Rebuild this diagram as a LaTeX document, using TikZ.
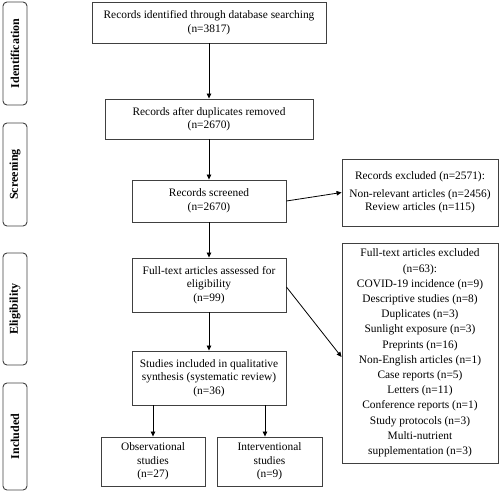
\documentclass[tikz,border=0pt]{standalone}
\usepackage{fontspec}
\setmainfont{Liberation Serif}
\usetikzlibrary{arrows.meta}
\begin{document}
\begin{tikzpicture}[x=1pt,y=-1pt,
  box/.style={draw=black!75,line width=0.9pt,align=center,inner sep=2pt,
    font=\fontsize{11.4}{13.6}\selectfont},
  side/.style={draw=black!75,line width=0.9pt,rounded corners=4pt,minimum width=24pt,
    inner sep=1pt,font=\bfseries\fontsize{12}{13}\selectfont},
  arr/.style={-{Triangle[length=5pt,width=4.5pt]},line width=0.8pt}]
\useasboundingbox (0,0) rectangle (500,493);
% phase labels
\node[side,minimum height=103pt] (s1) at (15,53.5) {\rotatebox{90}{Identification}};
\node[side,minimum height=103pt] (s2) at (15,174.5) {\rotatebox{90}{Screening}};
\node[side,minimum height=112pt] (s3) at (15,309) {\rotatebox{90}{Eligibility}};
\node[side,minimum height=107pt] (s4) at (15,436.5) {\rotatebox{90}{Included}};
% main boxes
\node[box,minimum width=234pt,minimum height=41pt] (b1) at (209,22.5)
  {Records identified through database searching\\(n=3817)};
\node[box,minimum width=208pt,minimum height=40pt] (b2) at (209,119)
  {Records after duplicates removed\\(n=2670)};
\node[box,minimum width=154pt,minimum height=42pt] (b3) at (209,201)
  {Records screened\\(n=2670)};
\node[box,minimum width=154pt,minimum height=54pt] (b4) at (209,285)
  {Full-text articles assessed for\\eligibility\\(n=99)};
\node[box,minimum width=154pt,minimum height=54pt] (b5) at (209,378)
  {Studies included in qualitative\\synthesis (systematic review)\\(n=36)};
\node[box,minimum width=104pt,minimum height=49pt] (b6) at (153,461.5)
  {Observational\\studies\\(n=27)};
\node[box,minimum width=105pt,minimum height=49pt] (b7) at (269.5,461.5)
  {Interventional\\studies\\(n=9)};
\node[box,minimum width=156pt,minimum height=67pt] (e1) at (420,192.5)
  {Records excluded (n=2571):\\[4pt]Non-relevant articles (n=2456)\\Review articles (n=115)};
\node[box,minimum width=156pt,minimum height=220pt,
  font=\fontsize{11.4}{15.2}\selectfont] (e2) at (420,353)
  {Full-text articles excluded\\(n=63):\\COVID-19 incidence (n=9)\\Descriptive studies (n=8)\\
   Duplicates (n=3)\\Sunlight exposure (n=3)\\Preprints (n=16)\\Non-English articles (n=1)\\
   Case reports (n=5)\\Letters (n=11)\\Conference reports (n=1)\\Study protocols (n=3)\\
   Multi-nutrient\\supplementation (n=3)};
% connectors
\draw[arr] (b1) -- (b2);
\draw[arr] (b2) -- (b3);
\draw[arr] (b3) -- (b4);
\draw[arr] (b4) -- (b5);
\draw[arr] (b5.south -| b6) -- (b6);
\draw[arr] (b5.south -| 265,0) -- (b7.north -| 265,0);
\draw[arr] (b3.east) -- (e1.west);
\draw[arr] (b4.east |- 0,287) -- (e1.west |- 0,357);
\end{tikzpicture}
\end{document}
